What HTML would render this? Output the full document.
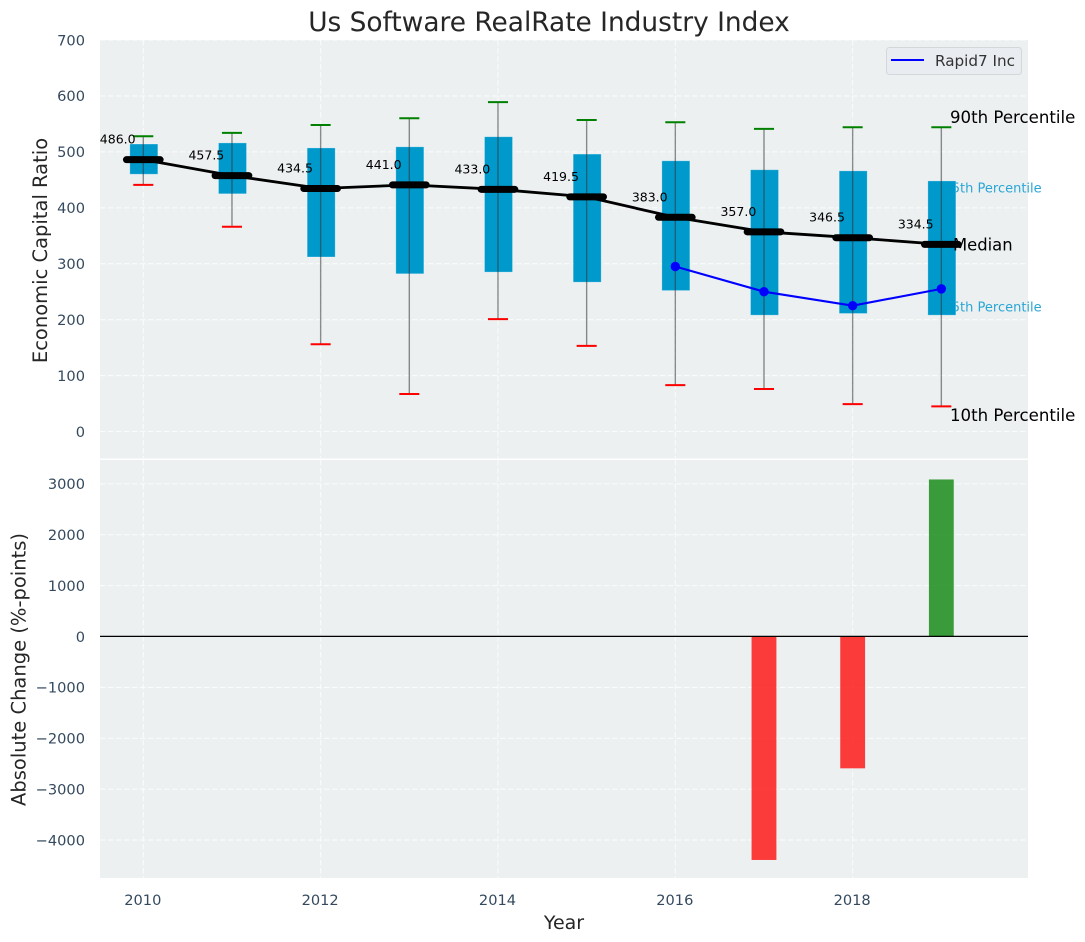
<!DOCTYPE html>
<html>
<head>
<meta charset="utf-8">
<title>Us Software RealRate Industry Index</title>
<style>
html,body{margin:0;padding:0;background:#fff;width:1085px;height:942px;overflow:hidden}
svg{display:block}
text{font-family:"DejaVu Sans","Liberation Sans",sans-serif}
</style>
</head>
<body>
<svg id="chart" xmlns="http://www.w3.org/2000/svg" width="1085" height="942" viewBox="0 0 1085 942">
  <rect width="1085" height="942" fill="#ffffff"/>
  <rect x="100" y="40" width="928" height="418.5" fill="#ecf0f1"/>
  <rect x="100" y="460" width="928" height="418" fill="#ecf0f1"/>
  <g id="grid"></g>
  <g id="ticks"></g>
  <g id="annotations-back">
    <text x="943.5" y="192.5" font-size="13" fill="#29a6d4">75th Percentile</text>
    <text x="943.5" y="311.5" font-size="13" fill="#29a6d4">25th Percentile</text>
  </g>
  <g id="marks"></g>
  <g id="bars"></g>
  <line x1="100" x2="1028" y1="636.4" y2="636.4" stroke="#000" stroke-width="1.3"/>
  <g id="annotations-front">
    <text x="950" y="123" font-size="16.6" fill="#000">90th Percentile</text>
    <text x="953" y="250.5" font-size="16.4" fill="#000">Median</text>
    <text x="950" y="421" font-size="16.6" fill="#000">10th Percentile</text>
  </g>
  <g>
    <rect x="886.5" y="47.5" width="135" height="27" rx="3" fill="#e9ecf0" stroke="#d4d7da"/>
    <line x1="891" x2="924" y1="60" y2="60" stroke="#0000ff" stroke-width="2"/>
    <text x="935" y="66" font-size="15.2" fill="#333">Rapid7 Inc</text>
  </g>
  <text x="549" y="31" font-size="26.4" fill="#262626" text-anchor="middle">Us Software RealRate Industry Index</text>
  <text transform="translate(47,250.5) rotate(-90)" font-size="19.5" fill="#262626" text-anchor="middle">Economic Capital Ratio</text>
  <text transform="translate(25.5,669.5) rotate(-90)" font-size="19.5" fill="#262626" text-anchor="middle">Absolute Change (%-points)</text>
  <text x="564" y="929" font-size="19" fill="#262626" text-anchor="middle">Year</text>
</svg>
<script>
var years = [2010, 2011, 2012, 2013, 2014, 2015, 2016, 2017, 2018, 2019];
var p90 = [528, 534, 548, 560, 589, 557, 553, 541, 544, 544];
var p75 = [514, 516, 507, 509, 527, 496, 484, 468, 466, 448];
var median = [486.0, 457.5, 434.5, 441.0, 433.0, 419.5, 383.0, 357.0, 346.5, 334.5];
var p25 = [460, 425, 312, 282, 285, 267, 252, 208, 211, 208];
var p10 = [441, 366, 156, 67, 201, 153, 83, 76, 49, 45];
var companyYears = [2016, 2017, 2018, 2019];
var companyValues = [295, 250, 225, 255];
var changeYears = [2017, 2018, 2019];
var changeValues = [-4390, -2590, 3085];
var xTicks = [2010, 2012, 2014, 2016, 2018];
var yTicksTop = [0, 100, 200, 300, 400, 500, 600, 700];
var yTicksBottom = [-4000, -3000, -2000, -1000, 0, 1000, 2000, 3000];

var NS = 'http://www.w3.org/2000/svg';
function xScale(v) { return 143.3 + (v - 2010) * 88.67; }
function yTop(v) { return 431.5 - v * 0.5593; }
function yBottom(v) { return 636.5 - v * 0.0509; }
function make(parent, tag, attrs, content) {
  var el = document.createElementNS(NS, tag);
  for (var k in attrs) { el.setAttribute(k, attrs[k]); }
  if (content !== undefined) { el.textContent = content; }
  parent.appendChild(el);
  return el;
}
function minusFmt(v) { return v < 0 ? '\u2212' + Math.abs(v) : String(v); }

var grid = document.getElementById('grid');
var ticks = document.getElementById('ticks');
var marks = document.getElementById('marks');
var bars = document.getElementById('bars');
var gridStyle = { stroke: '#ffffff', 'stroke-width': 1.1, 'stroke-dasharray': '5.5 2.5', opacity: 0.75 };
function gridLine(x1, y1, x2, y2) {
  var a = { x1: x1, y1: y1, x2: x2, y2: y2 };
  for (var k in gridStyle) { a[k] = gridStyle[k]; }
  var l = make(grid, 'line', a);
  
  
}

xTicks.forEach(function (t) {
  var x = xScale(t);
  gridLine(x, 40, x, 458);
  gridLine(x, 460, x, 878);
  var lbl = make(ticks, 'text', { x: x - 0.5, y: 905, 'font-size': 14.6, fill: '#34495e', 'text-anchor': 'middle' }, String(t));
  
  
});
yTicksTop.forEach(function (t) {
  var y = yTop(t);
  gridLine(100, y, 1028, y);
  var lbl = make(ticks, 'text', { x: 85, y: y + 5.3, 'font-size': 14.6, fill: '#34495e', 'text-anchor': 'end' }, String(t));
  
  
});
yTicksBottom.forEach(function (t) {
  var y = yBottom(t);
  gridLine(100, y, 1028, y);
  var lbl = make(ticks, 'text', { x: 85, y: y + 5.3, 'font-size': 14.6, fill: '#34495e', 'text-anchor': 'end' }, minusFmt(t));
  
  
});

var boxHalf = 0.158;
var boxShift = 0.006;
years.forEach(function (yr, i) {
  var box = make(marks, 'rect', {
    x: xScale(yr - boxHalf + boxShift), y: yTop(p75[i]),
    width: xScale(yr + boxHalf) - xScale(yr - boxHalf),
    height: yTop(p25[i]) - yTop(p75[i]),
    fill: '#0099cc', stroke: '#ffffff', 'stroke-opacity': 0.35, 'stroke-width': 0.8
  });
  
  
});
years.forEach(function (yr, i) {
  var x = xScale(yr);
  var w = make(marks, 'line', { x1: x, x2: x, y1: yTop(p10[i]), y2: yTop(p90[i]), stroke: '#333', 'stroke-opacity': 0.55, 'stroke-width': 1.4 });
  
  
  var capHi = make(marks, 'line', { x1: xScale(yr - 0.113), x2: xScale(yr + 0.113), y1: yTop(p90[i]), y2: yTop(p90[i]), stroke: '#008000', 'stroke-width': 2 });
  
  
  var capLo = make(marks, 'line', { x1: xScale(yr - 0.113), x2: xScale(yr + 0.113), y1: yTop(p10[i]), y2: yTop(p10[i]), stroke: '#ff0000', 'stroke-width': 2 });
  
  
});

var medianPts = years.map(function (yr, i) { return xScale(yr) + ',' + yTop(median[i]); }).join(' ');
var medLine = make(marks, 'polyline', { points: medianPts, fill: 'none', stroke: '#000', 'stroke-width': 2.8 });


years.forEach(function (yr, i) {
  var y = yTop(median[i]);
  var cap = make(marks, 'line', { x1: xScale(yr - 0.19), x2: xScale(yr + 0.19), y1: y, y2: y, stroke: '#000', 'stroke-width': 7, 'stroke-linecap': 'round' });
  
  
  var lbl = make(marks, 'text', { x: xScale(yr) - 43.5, y: y - 16, 'font-size': 12.5, fill: '#000' }, median[i].toFixed(1));
  
  
});

var companyPts = companyYears.map(function (yr, i) { return xScale(yr) + ',' + yTop(companyValues[i]); }).join(' ');
var compLine = make(marks, 'polyline', { points: companyPts, fill: 'none', stroke: '#0000ff', 'stroke-width': 2.1 });


companyYears.forEach(function (yr, i) {
  var dot = make(marks, 'circle', { cx: xScale(yr), cy: yTop(companyValues[i]), r: 4.7, fill: '#0000ff' });
  
  
});

changeYears.forEach(function (yr, i) {
  var v = changeValues[i];
  var y0 = yBottom(0), y1 = yBottom(v);
  var b = make(bars, 'rect', {
    x: xScale(yr - 0.14), width: xScale(yr + 0.14) - xScale(yr - 0.14),
    y: Math.min(y0, y1), height: Math.abs(y1 - y0),
    fill: v >= 0 ? '#008000' : '#ff0000', 'fill-opacity': 0.76
  });
  
  
});
</script>
</body>
</html>
